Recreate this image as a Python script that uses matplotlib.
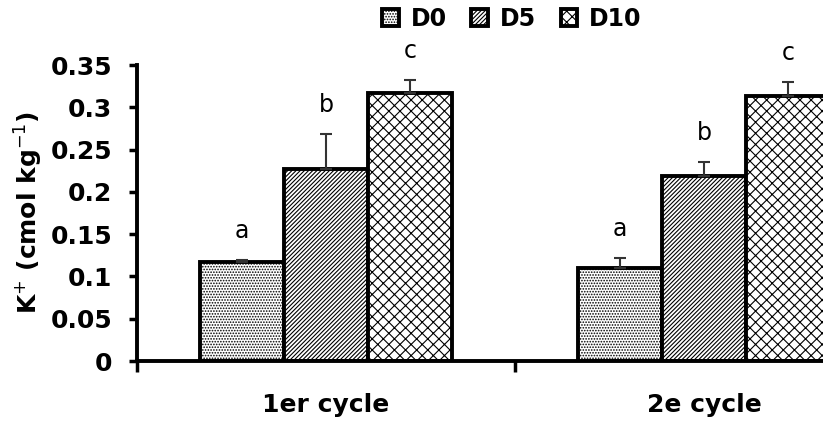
import matplotlib
matplotlib.use("Agg")
import matplotlib.pyplot as plt
import numpy as np
from matplotlib.patches import Patch

plt.rcParams['font.family'] = ['DejaVu Sans']
plt.rcParams['hatch.linewidth'] = 0.8

categories = ["1er cycle", "2e cycle"]
series = ["D0", "D5", "D10"]
values = {
    "D0": [0.117, 0.110],
    "D5": [0.227, 0.219],
    "D10": [0.317, 0.313],
}
errors = {
    "D0": [0.003, 0.012],
    "D5": [0.041, 0.016],
    "D10": [0.015, 0.017],
}
letters = {
    "D0": ["a", "a"],
    "D5": ["b", "b"],
    "D10": ["c", "c"],
}
hatches = {"D0": "......", "D5": "////////", "D10": "xxx"}
yticks = [0, 0.05, 0.1, 0.15, 0.2, 0.25, 0.3, 0.35]
ytick_labels = ["0", "0.05", "0.1", "0.15", "0.2", "0.25", "0.3", "0.35"]

fig = plt.figure(figsize=(8.23, 4.21), dpi=100)
ax = fig.add_axes([0.1665, 0.1425, 0.9186, 0.7031])

w = 0.222
x = np.arange(len(categories))
for i, s in enumerate(series):
    pos = x + (i - 1) * w
    ax.bar(pos, values[s], width=w, color="white", edgecolor="black",
           linewidth=2.8, hatch=hatches[s], zorder=2)
    ax.errorbar(pos, values[s], yerr=[np.zeros(len(pos)), errors[s]],
                fmt="none", ecolor="#333333", elinewidth=1.5, capsize=4,
                capthick=1.5, zorder=3)
    for p, v, e, l in zip(pos, values[s], errors[s], letters[s]):
        ax.text(p, v + e + 0.02, l, ha="center", va="bottom", fontsize=17)

ax.set_xlim(-0.5, 1.5)
ax.set_ylim(0, 0.35)
ax.set_yticks(yticks)
ax.set_yticklabels(ytick_labels, fontsize=18, fontweight="bold")
ax.set_xticks(x)
ax.set_xticklabels(categories, fontsize=18, fontweight="bold")
ax.set_xticks([-0.5, 0.5, 1.5], minor=True)
ax.tick_params(axis="x", which="major", length=0, pad=23)
ax.tick_params(axis="x", which="minor", length=8, width=2.5, direction="out")
ax.tick_params(axis="y", length=6, width=2.5, direction="out", pad=12)
ax.set_ylabel("K$^{+}$ (cmol kg$^{-1}$)", fontsize=18, fontweight="bold", labelpad=4)

for sp in ["top", "right"]:
    ax.spines[sp].set_visible(False)
for sp in ["left", "bottom"]:
    ax.spines[sp].set_linewidth(2.8)

handles = [Patch(facecolor="white", edgecolor="black", hatch=hatches[s], linewidth=2.8)
           for s in series]
fig.legend(handles, series, loc="upper center", bbox_to_anchor=(0.622, 1.035),
           ncol=3, frameon=False, prop={"weight": "bold", "size": 17},
           handlelength=0.7, handleheight=0.7, handletextpad=0.5, columnspacing=1.05)

fig.savefig("out.png", dpi=100)
